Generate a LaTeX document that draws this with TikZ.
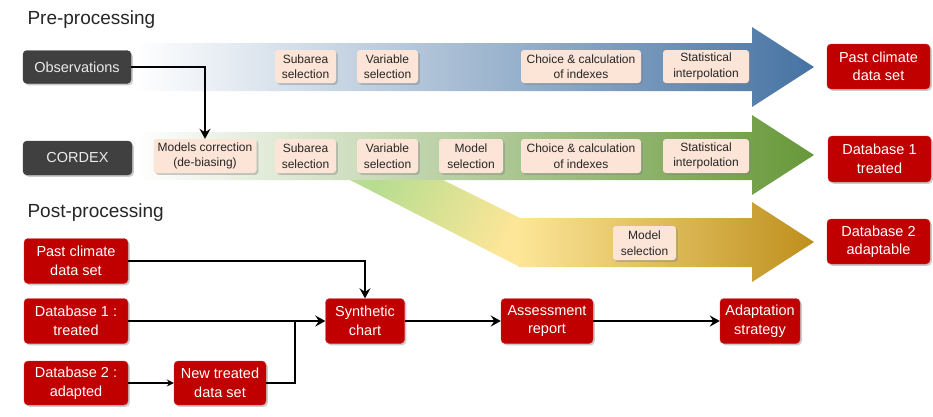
\documentclass[tikz,border=0pt]{standalone}
\usepackage{fontspec}
\setmainfont{Liberation Sans}
\usepackage{tikz}
\usetikzlibrary{arrows.meta,shadows}
\definecolor{boxred}{HTML}{C00000}
\definecolor{boxdark}{HTML}{404040}
\definecolor{peach}{HTML}{FCE4D6}
\definecolor{blueM}{HTML}{A9C6E3}
\definecolor{blueD}{HTML}{4673A3}
\definecolor{greenM}{HTML}{B6DD90}
\definecolor{greenD}{HTML}{679839}
\definecolor{yellowL}{HTML}{FDE698}
\definecolor{goldD}{HTML}{BE8F1C}

\begin{document}
\begin{tikzpicture}[x=1pt,y=-1pt,
  box/.style={rounded corners=4pt,align=center,inner sep=2pt,
    drop shadow={shadow xshift=1.8pt,shadow yshift=-1.8pt,opacity=0.4}},
  redbox/.style={box,fill=boxred,draw=boxred!80!white,text=white,
    font=\fontsize{14.5}{18.5}\selectfont},
  darkbox/.style={box,fill=boxdark,draw=boxdark,text=white!92!black,
    font=\fontsize{14.5}{18}\selectfont},
  stepbox/.style={box,rounded corners=3pt,fill=peach,text=black!85,
    font=\fontsize{12}{15.5}\selectfont},
  flow/.style={line width=2.4pt,-{Stealth[length=10pt,width=11pt,inset=3.5pt]}},
  title/.style={anchor=west,text=black!85,font=\fontsize{19}{23}\selectfont}]
  \useasboundingbox (0,0) rectangle (933,416);

  \node[title] (pretitle) at (24,20) {Pre-processing};
  \node[title] (posttitle) at (24,213) {Post-processing};

  % big arrows
  \shade[left color=greenM,right color=yellowL,shading angle=63]
    (350,180) -- (443,180) -- (520,218) -- (520,267) -- cycle;
  \shade[left color=yellowL,right color=goldD]
    (518,218) -- (752,218) -- (752,202) -- (814,242) -- (752,282) -- (752,267) -- (518,267) -- cycle;
  \shade[left color=white,middle color=blueM,right color=blueD]
    (135,43) -- (752,43) -- (752,27) -- (814,67) -- (752,107) -- (752,91) -- (135,91) -- cycle;
  \shade[left color=white,middle color=greenM,right color=greenD]
    (135,132) -- (752,132) -- (752,115) -- (814,155) -- (752,195) -- (752,180) -- (135,180) -- cycle;

  \node[darkbox,minimum width=108pt,minimum height=33pt] (obs) at (77,67) {Observations};
  \node[darkbox,minimum width=109pt,minimum height=34pt] (cordex) at (77.5,158) {CORDEX};

  % steps on the arrows
  \node[stepbox,minimum width=61pt,minimum height=33pt] (sub1) at (305.5,66.5) {Subarea\\selection};
  \node[stepbox,minimum width=61pt,minimum height=33pt] (var1) at (387.5,66.5) {Variable\\selection};
  \node[stepbox,minimum width=120pt,minimum height=33pt] (idx1) at (581,66.5) {Choice \& calculation\\of indexes};
  \node[stepbox,minimum width=86pt,minimum height=33pt] (interp1) at (706,66.5) {Statistical\\interpolation};

  \node[stepbox,minimum width=103pt,minimum height=34pt] (corr) at (205,156) {Models correction\\(de-biasing)};
  \node[stepbox,minimum width=61pt,minimum height=34pt] (sub2) at (305.5,156) {Subarea\\selection};
  \node[stepbox,minimum width=61pt,minimum height=34pt] (var2) at (387.5,156) {Variable\\selection};
  \node[stepbox,minimum width=64pt,minimum height=34pt] (mod2) at (471,156) {Model\\selection};
  \node[stepbox,minimum width=120pt,minimum height=34pt] (idx2) at (581,156) {Choice \& calculation\\of indexes};
  \node[stepbox,minimum width=86pt,minimum height=34pt] (interp2) at (706,156) {Statistical\\interpolation};

  \node[stepbox,minimum width=63pt,minimum height=34pt] (mod3) at (644.5,243) {Model\\selection};

  \node[redbox,minimum width=103pt,minimum height=45pt] (pastR) at (878.5,66.5) {Past climate\\data set};
  \node[redbox,minimum width=103pt,minimum height=46pt] (dbaR) at (879.5,159) {Database 1\\treated};
  \node[redbox,minimum width=103pt,minimum height=45pt] (dbbR) at (878.5,241.5) {Database 2\\adaptable};

  \draw[flow] (obs.east) -| (corr.north);

  % post-processing
  \node[redbox,minimum width=104pt,minimum height=45pt] (pastL) at (76,261) {Past climate\\data set};
  \node[redbox,minimum width=104pt,minimum height=45pt] (dbaL) at (76,321) {Database 1 :\\treated};
  \node[redbox,minimum width=104pt,minimum height=44pt] (dbbL) at (76,383) {Database 2 :\\adapted};
  \node[redbox,minimum width=92pt,minimum height=44pt] (newset) at (220,383) {New treated\\data set};
  \node[redbox,minimum width=79pt,minimum height=45pt] (synth) at (365,321) {Synthetic\\chart};
  \node[redbox,minimum width=92pt,minimum height=45pt] (assess) at (547,321) {Assessment\\report};
  \node[redbox,minimum width=80pt,minimum height=45pt] (adapt) at (760,321) {Adaptation\\strategy};
  \coordinate (merge) at (295,321);

  \draw[flow] (pastL.east) -| (synth.north);
  \draw[flow] (dbaL.east) -- (synth.west);
  \draw[line width=2.4pt,-{Stealth[length=7pt,width=7pt,inset=2.5pt]}] (dbbL.east) -- (newset.west);
  \draw[line width=2.4pt] (newset.east) -| (merge);
  \draw[flow] (synth.east) -- (assess.west);
  \draw[flow] (assess.east) -- (adapt.west);
\end{tikzpicture}
\end{document}
